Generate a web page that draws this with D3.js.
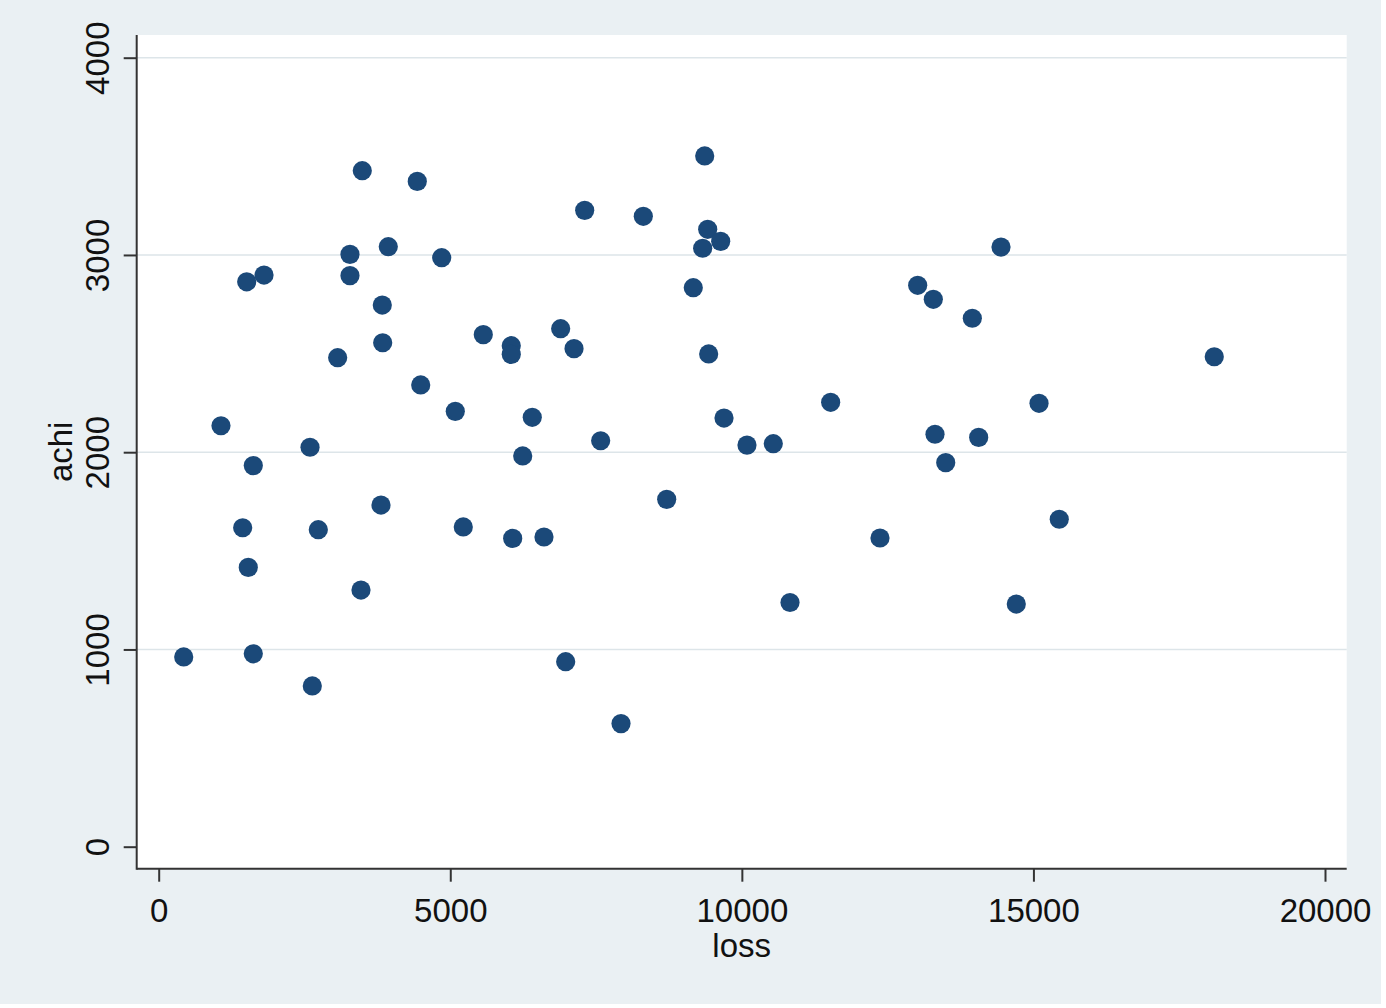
<!DOCTYPE html>
<html>
<head>
<meta charset="utf-8">
<script src="https://cdn.jsdelivr.net/npm/d3@7"></script>
<style>
  html, body { margin: 0; padding: 0; background: #ffffff; }
  svg { display: block; }
  text { font-family: "Liberation Sans", Arial, Helvetica, sans-serif; fill: #111; }
</style>
</head>
<body>
<svg id="chart" width="1386" height="1008"></svg>
<script>
// ---- data ----
const loss = [429, 1068, 1440, 1509, 1536, 1622, 1622, 1806, 2595, 2634,
  2737, 3069, 3280, 3280, 3491, 3469, 3834, 3841, 3812, 3937,
  4434, 4493, 4853, 5086, 5223, 5566, 6046, 6046, 6070, 6242,
  6406, 6607, 6893, 6979, 7122, 7305, 7579, 7928, 8310, 8711,
  9167, 9328, 9363, 9414, 9431, 9637, 9694, 10088, 10539, 10826,
  11523, 12369, 13015, 13283, 13312, 13496, 13952, 14061, 14444, 14706,
  15096, 15443, 18101];
const achi = [962, 2134, 1617, 2864, 1416, 1932, 978, 2898, 2025, 815,
  1607, 2479, 3003, 2895, 3427, 1301, 2746, 2555, 1732, 3042,
  3373, 2341, 2986, 2207, 1621, 2596, 2540, 2496, 1563, 1981,
  2177, 1570, 2626, 938, 2525, 3226, 2058, 624, 3196, 1761,
  2834, 3034, 3502, 3130, 2498, 3069, 2173, 2036, 2043, 1238,
  2253, 1565, 2846, 2775, 2091, 1947, 2679, 2075, 3040, 1230,
  2248, 1660, 2484];
const xTicks = [0, 5000, 10000, 15000, 20000];
const yTicks = [0, 1000, 2000, 3000, 4000];
const xTitle = "loss";
const yTitle = "achi";

// ---- layout ----
const W = 1386, H = 1008;
const plot = { left: 136.7, right: 1346.7, top: 35, bottom: 868.7 };
const svg = d3.select("#chart");

svg.append("rect").attr("x", 0).attr("y", 0).attr("width", 1381).attr("height", 1004)
  .attr("fill", "#eaf0f3");

const x = d3.scaleLinear().domain([0, 20000]).range([158.7, 1325]);
const y = d3.scaleLinear().domain([0, 4000]).range([846.7, 57.7]);

// plot region
svg.append("rect")
  .attr("x", plot.left).attr("y", plot.top)
  .attr("width", plot.right - plot.left).attr("height", plot.bottom - plot.top)
  .attr("fill", "#ffffff");

// grid lines
svg.append("g").selectAll("line").data(yTicks.filter(d => d > 0)).join("line")
  .attr("x1", plot.left).attr("x2", plot.right)
  .attr("y1", d => y(d)).attr("y2", d => y(d))
  .attr("stroke", "#dde5e9").attr("stroke-width", 1.5);

// points
svg.append("g").selectAll("circle").data(loss.map((v, i) => [v, achi[i]])).join("circle")
  .attr("cx", d => x(d[0])).attr("cy", d => y(d[1]))
  .attr("r", 9.6)
  .attr("fill", "#1b4979");

// x axis
const gx = svg.append("g").attr("transform", `translate(0,${plot.bottom})`)
  .call(d3.axisBottom(x).tickValues(xTicks).tickFormat(d3.format("d")).tickSizeInner(13).tickSizeOuter(0));
gx.select(".domain").remove();
gx.selectAll(".tick line").attr("stroke", "#333").attr("stroke-width", 2);
gx.selectAll(".tick text").attr("y", 53).attr("dy", 0)
  .style("font-size", "33px").attr("fill", "#111");

// y axis
const gy = svg.append("g").attr("transform", `translate(${plot.left},0)`)
  .call(d3.axisLeft(y).tickValues(yTicks).tickFormat(d3.format("d")).tickSizeInner(13).tickSizeOuter(0));
gy.select(".domain").remove();
gy.selectAll(".tick line").attr("stroke", "#333").attr("stroke-width", 2);
gy.selectAll(".tick text")
  .attr("x", null).attr("dy", 0)
  .attr("transform", "translate(-27.4,0) rotate(-90)")
  .attr("text-anchor", "middle")
  .style("font-size", "33px").attr("fill", "#111");

// axis lines
svg.append("line").attr("x1", plot.left).attr("x2", plot.left)
  .attr("y1", plot.top).attr("y2", plot.bottom + 1)
  .attr("stroke", "#333").attr("stroke-width", 2);
svg.append("line").attr("x1", plot.left).attr("x2", plot.right)
  .attr("y1", plot.bottom).attr("y2", plot.bottom)
  .attr("stroke", "#333").attr("stroke-width", 2);

// titles
svg.append("text").attr("x", (plot.left + plot.right) / 2).attr("y", 956.7)
  .attr("text-anchor", "middle").style("font-size", "33px").text(xTitle);
svg.append("text")
  .attr("transform", `translate(71.7,${(plot.top + plot.bottom) / 2}) rotate(-90)`)
  .attr("text-anchor", "middle").style("font-size", "33px").text(yTitle);
</script>
</body>
</html>
